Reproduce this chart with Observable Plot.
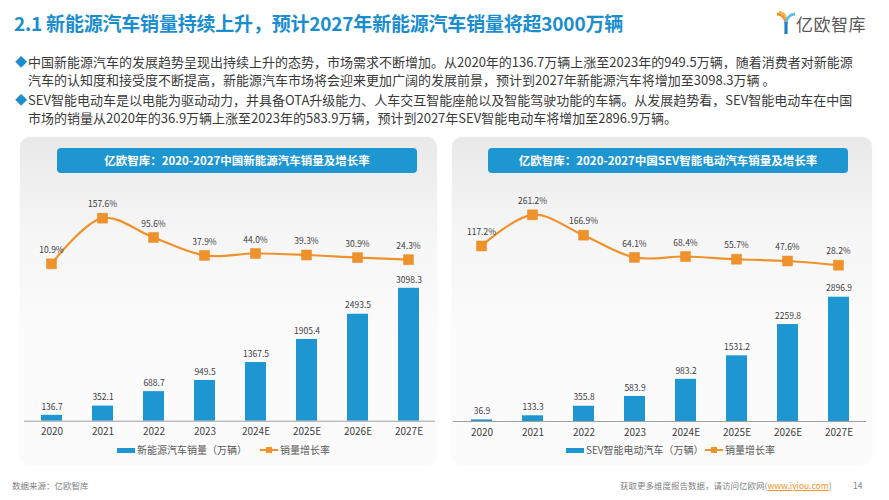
<!DOCTYPE html>
<html><head><meta charset="utf-8">
<script src="https://cdn.jsdelivr.net/npm/d3@7"></script>
<script src="https://cdn.jsdelivr.net/npm/@observablehq/plot@0.6"></script>
<style>
body{margin:0;background:#fff;font-family:"Noto Sans CJK SC","Noto Sans",sans-serif;}
#page{position:relative;width:889px;height:500px;overflow:hidden;background:#fff;}
.abs{position:absolute;}
.title{left:14px;top:9px;font-size:19px;font-weight:bold;color:#1a8dcf;white-space:nowrap;letter-spacing:-0.2px;}
.para{left:15px;width:852px;font-size:13px;line-height:18px;color:#3a3a3a;}
.para .d{position:absolute;left:0;top:0;color:#1a8dcf;font-size:12px;}
.para .l{margin-left:13px;white-space:nowrap;}
.panel{top:137px;height:328px;border-radius:10px;background:linear-gradient(#e9e9e9 0%,#f6f6f6 30%,#fbfbfb 60%,#fbfbfb 100%);box-shadow:0 0 2px rgba(0,0,0,0.06);}
.tbar{top:148px;height:25px;width:360px;border-radius:4px;background:#1e96d2;color:#fff;font-weight:bold;font-size:11.5px;line-height:25px;text-align:center;white-space:nowrap;}
.leg{top:443px;font-size:10px;color:#595959;white-space:nowrap;line-height:14px;}
.sw{display:inline-block;width:18px;height:5px;background:#1e96d2;vertical-align:middle;margin-right:2px;position:relative;top:-1px;}
.foot{top:479px;font-size:8.5px;color:#7f7f7f;white-space:nowrap;}
svg.plotsvg{position:absolute;overflow:visible;}
</style></head><body><div id="page">
<div class="abs title">2.1 新能源汽车销量持续上升，预计2027年新能源汽车销量将超3000万辆</div>
<div class="abs" style="left:776px;top:11px;">
<svg width="20" height="24" viewBox="0 0 20 24">
<path d="M1 3 C5 3 9 6 10 12" stroke="#f0922b" stroke-width="3" fill="none"/>
<path d="M3 1 C6 1 9 3 10 7" stroke="#f6b13a" stroke-width="2" fill="none"/>
<path d="M19 3 C15 3 11 6 10 12" stroke="#5bc0e8" stroke-width="3" fill="none"/>
<path d="M10 11 L10 23" stroke="#1e7fc6" stroke-width="3.2" fill="none"/>
</svg></div>
<div class="abs" style="left:796px;top:11px;font-size:17px;color:#595959;letter-spacing:0.5px;white-space:nowrap;">亿欧智库</div>

<div class="abs para" style="top:53px;"><span class="d">◆</span>
<div class="l" id="p1a"></div><div class="l" id="p1b"></div></div>
<div class="abs para" style="top:91px;"><span class="d">◆</span>
<div class="l" id="p2a"></div><div class="l" id="p2b"></div></div>

<div class="abs panel" style="left:20px;width:417px;"></div>
<div class="abs panel" style="left:452px;width:420px;"></div>
<div class="abs tbar" style="left:57px;" id="t1"></div>
<div class="abs tbar" style="left:488px;" id="t2"></div>

<div id="charts"></div>

<div class="abs leg" style="left:117px;"><span class="sw"></span><span id="lg1"></span></div>
<div class="abs leg" style="left:260px;"><svg width="18" height="8" style="vertical-align:middle;position:relative;top:-1px;margin-right:2px;"><line x1="0" y1="4" x2="18" y2="4" stroke="#f0922b" stroke-width="2"/><rect x="6" y="1" width="6" height="6" fill="#f0922b"/></svg><span class="lg3">销量增长率</span></div>
<div class="abs leg" style="left:566px;"><span class="sw"></span><span id="lg2"></span></div>
<div class="abs leg" style="left:705px;"><svg width="18" height="8" style="vertical-align:middle;position:relative;top:-1px;margin-right:2px;"><line x1="0" y1="4" x2="18" y2="4" stroke="#f0922b" stroke-width="2"/><rect x="6" y="1" width="6" height="6" fill="#f0922b"/></svg><span class="lg3">销量增长率</span></div>

<div class="abs foot" style="left:12px;">数据来源：亿欧智库</div>
<div class="abs foot" style="left:620px;">获取更多维度报告数据，请访问亿欧网(<span style="color:#f0922b;text-decoration:underline;">www.iyiou.com</span>)</div>
<div class="abs foot" style="left:853px;">14</div>
</div>
<script>
// ---- data ----
const years = ["2020","2021","2022","2023","2024E","2025E","2026E","2027E"];
const nevSales = [136.7,352.1,688.7,949.5,1367.5,1905.4,2493.5,3098.3];
const nevGrowth = [10.9,157.6,95.6,37.9,44.0,39.3,30.9,24.3];
const sevSales = [36.9,133.3,355.8,583.9,983.2,1531.2,2259.8,2896.9];
const sevGrowth = [117.2,261.2,166.9,64.1,68.4,55.7,47.6,28.2];
const chartTitles = ["亿欧智库：2020-2027中国新能源汽车销量及增长率","亿欧智库：2020-2027中国SEV智能电动汽车销量及增长率"];
const legendLabels = ["新能源汽车销量（万辆）","SEV智能电动汽车（万辆）"];
const paragraphs = [
 ["中国新能源汽车的发展趋势呈现出持续上升的态势，市场需求不断增加。从2020年的136.7万辆上涨至2023年的949.5万辆，随着消费者对新能源",
  "汽车的认知度和接受度不断提高，新能源汽车市场将会迎来更加广阔的发展前景，预计到2027年新能源汽车将增加至3098.3万辆 。"],
 ["SEV智能电动车是以电能为驱动动力，并具备OTA升级能力、人车交互智能座舱以及智能驾驶功能的车辆。从发展趋势看，SEV智能电动车在中国",
  "市场的销量从2020年的36.9万辆上涨至2023年的583.9万辆，预计到2027年SEV智能电动车将增加至2896.9万辆。"]
];
document.getElementById("p1a").textContent = paragraphs[0][0];
document.getElementById("p1b").textContent = paragraphs[0][1];
document.getElementById("p2a").textContent = paragraphs[1][0];
document.getElementById("p2b").textContent = paragraphs[1][1];
document.getElementById("t1").textContent = chartTitles[0];
document.getElementById("t2").textContent = chartTitles[1];
document.getElementById("lg1").textContent = legendLabels[0];
document.getElementById("lg2").textContent = legendLabels[1];

const BLUE = "#1e96d2", ORANGE = "#f0922b";
const FONT = '"Noto Sans CJK SC","Noto Sans",sans-serif';
const page = document.getElementById("page");

function makeChart(cfg) {
  const data = years.map((y, i) => ({year: y, sales: cfg.sales[i], growth: cfg.growth[i]}));
  const common = {
    width: cfg.width, height: 280,
    marginLeft: cfg.ml, marginRight: cfg.mr, marginTop: 0, marginBottom: 280 - cfg.base,
    style: {background: "transparent", fontFamily: FONT, overflow: "visible"}
  };
  const xs = {domain: years, paddingInner: 0.59, paddingOuter: 0.295};
  const bars = Plot.plot({
    ...common,
    x: {...xs, label: null},
    y: {domain: [0, 4000], range: [cfg.base, cfg.base - 4000 * 0.0429], axis: null},
    marks: [
      Plot.barY(data, {x: "year", y: "sales", fill: BLUE}),
      Plot.ruleY([0], {stroke: "#a0a0a0", strokeWidth: 1}),
      Plot.text(data, {x: "year", y: "sales", text: d => d.sales.toFixed(1), dy: -8.5, fontSize: 8.5, fill: "#404040"}),
      Plot.axisX({tickSize: 0, tickPadding: 7, fontSize: 10, fill: "#404040", label: null})
    ]
  });
  const line = Plot.plot({
    ...common,
    x: {...xs, axis: null},
    y: {domain: cfg.pd, range: cfg.pr, axis: null},
    marks: [
      Plot.line(data, {x: "year", y: "growth", stroke: ORANGE, strokeWidth: 2.2, curve: "catmull-rom"}),
      Plot.dot(data, {x: "year", y: "growth", symbol: "square", r: 5.6, fill: ORANGE, stroke: "#e8861e", strokeWidth: 0.5}),
      Plot.text(data, {x: "year", y: "growth", text: d => d.growth.toFixed(1) + "%", dy: -13.5, fontSize: 8.5, fill: "#404040"})
    ]
  });
  for (const s of [bars, line]) {
    s.classList.add("plotsvg");
    s.style.left = cfg.left + "px";
    s.style.top = "180px";
    page.appendChild(s);
  }
}
makeChart({left: 0, width: 445, ml: 24, mr: 10, base: 240.7, sales: nevSales, growth: nevGrowth,
  pd: [0, 200], pr: [86.7, 86.7 - 200 * 0.311]});
makeChart({left: 445, width: 444, ml: 8, mr: 23, base: 241, sales: sevSales, growth: sevGrowth,
  pd: [0, 300], pr: [90.8, 90.8 - 300 * 0.2163]});
</script>
</body></html>
